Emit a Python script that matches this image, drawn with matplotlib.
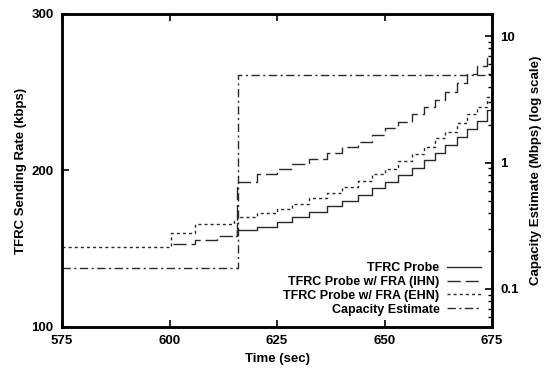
"""TFRC sending rate vs capacity estimate (step traces)."""
import matplotlib

matplotlib.use("Agg")
import matplotlib.pyplot as plt
import numpy as np

plt.rcParams["font.family"] = ["Liberation Sans", "DejaVu Sans"]
plt.rcParams["font.weight"] = "bold"

# step change times (sec) after the capacity jump; shared by all probe traces
post_times = [615.8, 620.3, 624.9, 628.5, 632.4, 636.7, 640.0, 643.8, 647.0, 650.1,
              653.2, 656.3, 659.2, 661.7, 664.1, 666.8, 669.1, 671.4, 673.8]
t_end = 675.0

# kbps levels; each trace has its own start and pre-jump steps
probe_pre_times = [615.5]
probe_pre = [158]
probe_post = [162, 164, 167.3, 170.5, 173.7, 177.3, 180.7, 184.3, 188.6, 192.9,
              197.1, 201.4, 206.7, 211, 216.3, 221.6, 226.3, 231.6, 238.7]

ihn_pre_times = [600.8, 606.0, 611.0]
ihn_pre = [153, 155.6, 158]
ihn_post = [192.4, 197.8, 201, 204.2, 207.1, 211, 214.8, 218.5, 222.7, 227,
            231.2, 236.1, 240.8, 245, 250.4, 255.7, 261.5, 267, 272.7]

ehn_pre_times = [575.0, 600.3, 606.0, 615.0]
ehn_pre = [151, 160, 166, 167.7]
ehn_post = [170.5, 173, 175.4, 178.6, 182.6, 185.8, 189.3, 193.3, 197.6, 201.2,
            206.3, 210.4, 215.2, 220.5, 224.8, 230.1, 236.1, 240.8, 247.2]

# capacity estimate (Mbps)
cap_times = [575.0, 615.9, 675.0]
cap_vals = [0.146, 4.95, 4.95]


def steps(pre_t, pre, post):
    t = np.array(pre_t + post_times + [t_end])
    v = np.array(pre + post + [post[-1]])
    return t, v


fig = plt.figure(figsize=(5.46, 3.78), dpi=100)
ax = fig.add_axes([0.1136, 0.135, 0.7875, 0.828])
ax2 = ax.twinx()

col = "#2a2a2a"
lw = 1.0
t, v = steps(probe_pre_times, probe_pre, probe_post)
ax.plot(t, v, drawstyle="steps-post", color=col, lw=lw, label="TFRC Probe")
t, v = steps(ihn_pre_times, ihn_pre, ihn_post)
ax.plot(t, v, drawstyle="steps-post", color=col, lw=lw, dashes=(9.5, 3.5),
        label="TFRC Probe w/ FRA (IHN)")
t, v = steps(ehn_pre_times, ehn_pre, ehn_post)
ax.plot(t, v, drawstyle="steps-post", color=col, lw=lw, dashes=(2.2, 2.2),
        label="TFRC Probe w/ FRA (EHN)")
ax2.plot(cap_times, cap_vals, drawstyle="steps-post", color=col, lw=lw,
         dashes=(6, 2.5, 1.5, 2.5), label="Capacity Estimate")

ax.set_xlim(575, 675)
ax.set_ylim(100, 300)
ax.set_xticks([575, 600, 625, 650, 675])
ax.set_yticks([100, 200, 300])
ax2.set_yscale("log")
ax2.set_ylim(0.05, 15)
ax2.set_yticks([0.1, 1, 10])
ax2.set_yticklabels(["0.1", "1", "10"])

for a in (ax, ax2):
    for s in a.spines.values():
        s.set_linewidth(1.8)
ax.tick_params(direction="in", top=True, right=False, length=5, width=1.2,
               labelsize=9.5, pad=6)
ax2.tick_params(which="major", direction="in", length=5, width=1.2,
                labelsize=9.5, pad=6)
ax2.tick_params(which="minor", direction="in", length=3, width=1.0)

ax.set_xlabel("Time (sec)", fontsize=9.5, fontweight="bold", labelpad=4)
ax.set_ylabel("TFRC Sending Rate (kbps)", fontsize=9.5, fontweight="bold", labelpad=3)
ax2.set_ylabel("Capacity Estimate (Mbps) (log scale)", fontsize=9.5,
               fontweight="bold", labelpad=8)

h1, l1 = ax.get_legend_handles_labels()
h2, l2 = ax2.get_legend_handles_labels()
ax2.legend(h1 + h2, l1 + l2, loc="lower right", bbox_to_anchor=(1.0, 0.0),
           frameon=False, markerfirst=False, handlelength=2.7,
           labelspacing=0.15, handletextpad=0.6, borderaxespad=0.5,
           prop={"weight": "bold", "size": 9})

fig.savefig("out.png", dpi=100)
